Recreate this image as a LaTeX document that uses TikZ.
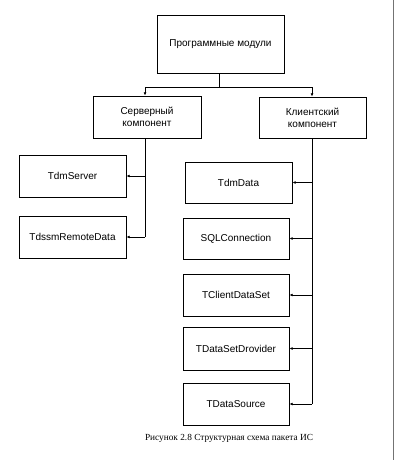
\documentclass[tikz,border=0pt]{standalone}
\usepackage{fontspec}
\setmainfont{Liberation Sans}
\newfontfamily\capfont{Liberation Serif}
\usetikzlibrary{arrows.meta}
\begin{document}
\begin{tikzpicture}[x=1pt,y=-1pt,
  box/.style={draw=black,line width=0.8pt,fill=white,inner sep=0pt,font=\fontsize{10}{12}\selectfont,align=center},
  conn/.style={line width=1pt,draw=black},
  arr/.style={conn,-{Latex[length=3.2pt,width=2.8pt]}}]
\useasboundingbox (0,0) rectangle (405,460);
\fill[white] (0,0) rectangle (405,460);
\draw[black!55,line width=0.8pt] (393,0) -- (393,460);
% boxes
\node[box,minimum width=127pt,minimum height=58pt] (top) at (220.5,44) {Программные модули};
\node[box,minimum width=108pt,minimum height=42pt] (srv) at (147,117) {Серверный\\компонент};
\node[box,minimum width=107pt,minimum height=41pt] (cli) at (312.5,117.5) {Клиентский\\компонент};
\node[box,minimum width=107pt,minimum height=42pt] (tds) at (72.5,176) {TdmServer};
\node[box,minimum width=107pt,minimum height=42pt] (trd) at (72.5,237) {TdssmRemoteData};
\node[box,minimum width=107pt,minimum height=41pt] (tdd) at (238.5,182.5) {TdmData};
\node[box,minimum width=106pt,minimum height=41pt] (sql) at (236,238.5) {SQLConnection};
\node[box,minimum width=106pt,minimum height=42pt] (cds) at (236,295) {TClientDataSet};
\node[box,minimum width=106pt,minimum height=43pt] (dsp) at (236,348.5) {TDataSetDrovider};
\node[box,minimum width=106pt,minimum height=42pt] (dsr) at (236,404) {TDataSource};
% connectors
\coordinate (j0) at (219,87);
\draw[conn] (top.south -| j0) -- (j0);
\draw[arr] (j0) -| (srv.north -| 145,0);
\draw[arr] (j0) -| (cli.north -| 312,0);
\coordinate (sb) at (145,237);
\draw[conn] (srv.south -| sb) -- (sb);
\draw[arr] (145,176) -- (tds.east);
\draw[arr] (sb) -- (trd.east);
\coordinate (cb) at (312,404);
\draw[conn] (cli.south -| cb) -- (cb);
\draw[arr] (312,182.5) -- (tdd.east);
\draw[arr] (312,238.5) -- (sql.east);
\draw[arr] (312,295) -- (cds.east);
\draw[arr] (312,348.5) -- (dsp.east);
\draw[arr] (cb) -- (dsr.east);
% caption
\node[font=\capfont\fontsize{9.3}{11}\selectfont,inner sep=0pt] (cap) at (229,438) {Рисунок 2.8 Структурная схема пакета ИС};
\end{tikzpicture}
\end{document}
